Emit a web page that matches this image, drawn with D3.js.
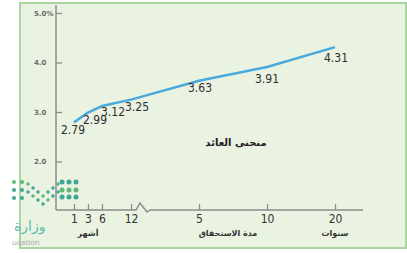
<!DOCTYPE html>
<html>
<head>
<meta charset="utf-8">
<script src="https://cdn.jsdelivr.net/npm/d3@7"></script>
<style>
  html, body { margin: 0; padding: 0; background: #ffffff; }
  svg { display: block; }
  .num { font-family: "Liberation Sans Narrow", "DejaVu Sans Condensed", sans-serif; }
  .ar { font-family: "DejaVu Sans", sans-serif; }
</style>
</head>
<body>
<svg id="chart" width="407" height="253"></svg>
<script>
// maturities in months and the yields
const maturityMonths = [1, 3, 6, 12, 60, 120, 240];
const yields = [2.79, 2.99, 3.12, 3.25, 3.63, 3.91, 4.31];
const xTickLabels = ['1', '3', '6', '12', '5', '10', '20'];
const yTicks = [2, 3, 4, 5];
const yTickLabels = ['2.0', '3.0', '4.0', '5.0%'];
const unitLabels = ['أشهر', 'مدة الاستحقاق', 'سنوات'];
const chartTitle = 'منحنى العائد';

const PANEL = { left: 20, top: 3, right: 406, bottom: 248 };
const AXIS_X = 56;
const AXIS_END = 363;

// value label nudges (dx, dy) so they sit under the line
const labelOffsets = [[-1, 12], [7, 12], [11, 10], [6, 11], [1, 11], [0, 16], [1, 15]];

const svg = d3.select('#chart');

svg.append('rect')
    .attr('x', PANEL.left)
    .attr('y', PANEL.top)
    .attr('width', PANEL.right - PANEL.left)
    .attr('height', PANEL.bottom - PANEL.top)
    .attr('fill', '#eaf2e2')
    .attr('stroke', '#a9d59f')
    .attr('stroke-width', 2);

// piecewise scale: months on the left part, years after the break
const scaleX = d3.scaleLinear()
    .domain(maturityMonths)
    .range([74, 88, 102, 131, 199, 267, 335]);

const scaleY = d3.scaleLinear()
    .domain([1, 5])
    .range([211, 13]);

const baseY = scaleY(1) - 1;

// y axis
const yAxis = d3.axisRight(scaleY)
    .tickValues(yTicks)
    .tickSize(6)
    .tickFormat((d, i) => yTickLabels[i]);

const gy = svg.append('g')
    .attr('transform', `translate(${AXIS_X},0)`)
    .call(yAxis);
gy.select('.domain').remove();
gy.selectAll('.tick line').attr('stroke', '#8c8c8c').attr('stroke-width', 1.3);
gy.selectAll('.tick text')
    .attr('x', -22)
    .attr('dy', '0.32em')
    .attr('text-anchor', 'start')
    .attr('fill', '#6b6b6b')
    .attr('font-weight', 'bold')
    .attr('font-size', 7)
    .attr('font-family', '"DejaVu Sans", sans-serif');

svg.append('line')
    .attr('x1', AXIS_X).attr('x2', AXIS_X)
    .attr('y1', 5).attr('y2', baseY)
    .attr('stroke', '#8c8c8c')
    .attr('stroke-width', 1.5);

// x axis with a break between months and years
const xAxis = d3.axisBottom(scaleX)
    .tickValues(maturityMonths)
    .tickSize(-6)
    .tickPadding(4)
    .tickFormat((d, i) => xTickLabels[i]);

const gx = svg.append('g')
    .attr('transform', `translate(0,${baseY})`)
    .call(xAxis);
gx.select('.domain').remove();
gx.selectAll('.tick line').attr('stroke', '#8c8c8c').attr('stroke-width', 1.3);
gx.selectAll('.tick text')
    .attr('class', 'num')
    .attr('font-size', 12)
    .attr('fill', '#333');

const breakX = scaleX(12) + 5;
svg.append('path')
    .attr('d', `M${AXIS_X},${baseY}H${breakX}L${breakX + 4},${baseY - 7}L${breakX + 11},${baseY + 2}L${breakX + 14},${baseY}H${AXIS_END}`)
    .attr('fill', 'none')
    .attr('stroke', '#8c8c8c')
    .attr('stroke-width', 1.5);

// unit labels under the axis
const unitX = [(scaleX(1) + scaleX(6)) / 2, (scaleX(60) + scaleX(120)) / 2 - 5, scaleX(240)];
svg.selectAll('.unit')
    .data(unitLabels)
    .join('text')
    .attr('class', 'unit ar')
    .attr('x', (d, i) => unitX[i])
    .attr('y', baseY + 26)
    .attr('text-anchor', 'middle')
    .attr('font-size', 8)
    .attr('font-weight', 'bold')
    .attr('fill', '#333')
    .text(d => d);

// yield curve
const points = maturityMonths.map((m, i) => ({ m: m, v: yields[i] }));

svg.append('path')
    .datum(points)
    .attr('d', d3.line().x(d => scaleX(d.m)).y(d => scaleY(d.v)))
    .attr('fill', 'none')
    .attr('stroke', '#4aa9dc')
    .attr('stroke-width', 2.5);

svg.selectAll('.val')
    .data(points)
    .join('text')
    .attr('class', 'val num')
    .attr('x', (d, i) => scaleX(d.m) + labelOffsets[i][0])
    .attr('y', (d, i) => scaleY(d.v) + labelOffsets[i][1])
    .attr('text-anchor', 'middle')
    .attr('font-size', 12)
    .attr('fill', '#2e2e2e')
    .text(d => d.v.toFixed(2));

svg.append('text')
    .attr('class', 'ar')
    .attr('x', 236)
    .attr('y', 146)
    .attr('text-anchor', 'middle')
    .attr('font-size', 10)
    .attr('font-weight', 'bold')
    .attr('fill', '#222')
    .text(chartTitle);

// ministry watermark in the lower left corner
const logo = svg.append('g');
const dots = [];
[14, 22].forEach(x => [182, 190, 198].forEach(y => dots.push({ x: x, y: y, r: 2 })));
[0, 1, 2, 3, 4, 5, 6].forEach(k => {
    const depth = 12 - Math.abs(k - 3) * 4;
    [0, 8].forEach(o => dots.push({ x: 28 + k * 5, y: 184 + depth + o, r: 1.7 }));
});
[62, 69, 76].forEach(x => [182, 190, 197].forEach(y => dots.push({ x: x, y: y, r: 2.5 })));
logo.selectAll('circle')
    .data(dots)
    .join('circle')
    .attr('cx', d => d.x)
    .attr('cy', d => d.y)
    .attr('r', d => d.r)
    .attr('fill', (d, i) => i % 3 === 0 ? '#4fb06a' : '#2a9d8f')
    .attr('opacity', 0.9);

logo.append('text')
    .attr('class', 'ar')
    .attr('x', 14)
    .attr('y', 231)
    .attr('font-size', 14)
    .attr('fill', '#5cbcae')
    .text('وزارة');

logo.append('text')
    .attr('x', 12)
    .attr('y', 245)
    .attr('font-size', 8)
    .attr('font-family', '"Open Sans", sans-serif')
    .attr('fill', '#a8a8a8')
    .text('ucation');
</script>
</body>
</html>
